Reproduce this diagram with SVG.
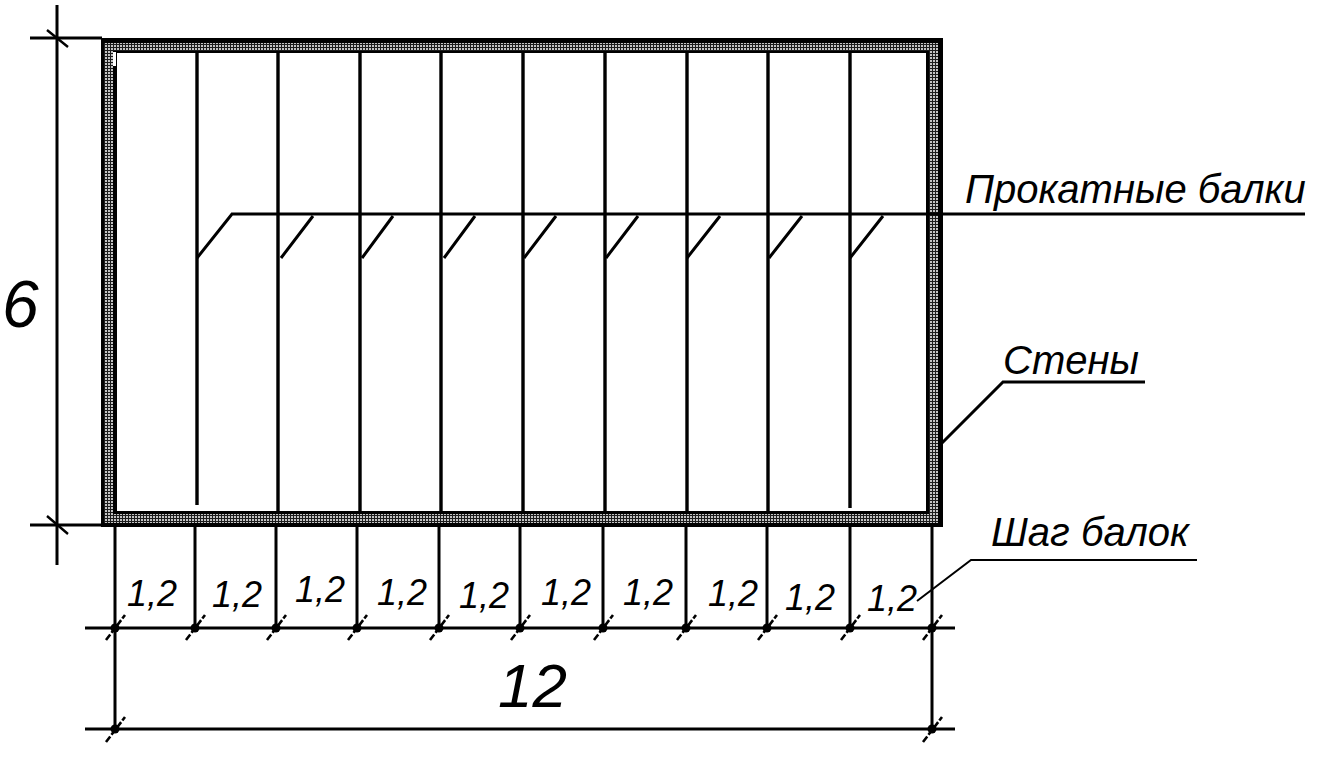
<svg xmlns="http://www.w3.org/2000/svg" width="1334" height="758" viewBox="0 0 1334 758">
<style>
.l{stroke:#000;stroke-width:3;fill:none}
.b{stroke:#000;stroke-width:3.4;fill:none}
.t{stroke:#000;stroke-width:2.6;fill:none;stroke-dasharray:7 2}
.x{font-family:"Liberation Sans",Arial,sans-serif;font-style:italic;fill:#000}
.d{font-size:36px}
</style>
<defs>
<pattern id="h" width="3" height="3" patternUnits="userSpaceOnUse">
<rect width="3" height="3" fill="#1c1c1c"/>
<rect width="2" height="2" fill="#c4c4c4"/>
</pattern>
<circle id="k" r="4.5" fill="#000"/>
</defs>
<rect width="1334" height="758" fill="#fff"/>
<g id="walls">
<path fill="#000" fill-rule="evenodd" d="M101 38H943V527H101ZM117 53V511H926V53Z"/>
<path fill="url(#h)" fill-rule="evenodd" d="M104 43H938V523H104ZM113 51V514H929V51Z"/>
<path fill="#fff" d="M113 52H116V66H113Z"/>
</g>
<g id="connectors">
<g id="beams" class="b">
<path d="M197 52V505M278 52V511M360 52V511M441 52V511M523 52V511M605 52V511M687 52V511M768 52V511M850 52V508"/>
</g>
<g id="leaders" class="l">
<path d="M197 258L232 214H1305"/>
<path d="M281 258L313 216M362 258L393 216M444 258L475 216M524 258L556 216M606 258L638 216M687 258L720 216M769 258L802 216M850 258L883 216"/>
<path d="M940 445L1003 382H1145"/>
<path d="M917 601L971 560H1197" stroke-width="2"/>
</g>
<g id="dimensions" class="l">
<path d="M57 5V565M30 38H102M30 525H102"/>
<path d="M115 527V730M195 527V628M276 527V628M357 527V628M439 527V628M520 527V628M603 527V628M686 527V628M767 527V628M850 527V628M932 527V730"/>
<path d="M85 628H955M85 729H955"/>
<path stroke-width="2.400" d="M47 30L68 47M47 516L68 534"/>
</g>
<g id="ticks" class="t">
<path d="M106 640L125 615M186 640L205 615M267 640L286 615M348 640L367 615M430 640L449 615M511 640L530 615M594 640L613 615M677 640L696 615M758 640L777 615M841 640L860 615M923 640L942 615"/>
<path d="M106 742L125 717M923 742L942 717"/>
</g>
<g id="knots">
<use href="#k" x="115" y="628"/><use href="#k" x="195" y="628"/><use href="#k" x="276" y="628"/><use href="#k" x="357" y="628"/><use href="#k" x="439" y="628"/><use href="#k" x="520" y="628"/><use href="#k" x="603" y="628"/><use href="#k" x="686" y="628"/><use href="#k" x="767" y="628"/><use href="#k" x="850" y="628"/><use href="#k" x="932" y="628"/><use href="#k" x="115" y="729"/><use href="#k" x="932" y="729"/>
</g>
</g>
<g id="labels">
<text class="x" x="965" y="203" font-size="40">Прокатные балки</text>
<text class="x" x="1003" y="374" font-size="40">Стены</text>
<text class="x" x="991" y="546" font-size="40">Шаг балок</text>
<text class="x" x="2" y="327" font-size="66">6</text>
<text class="x" x="498" y="707" font-size="62">12</text>
<text class="x d" x="127" y="606">1,2</text>
<text class="x d" x="212" y="607">1,2</text>
<text class="x d" x="295" y="602">1,2</text>
<text class="x d" x="377" y="605">1,2</text>
<text class="x d" x="459" y="608">1,2</text>
<text class="x d" x="541" y="605">1,2</text>
<text class="x d" x="623" y="605">1,2</text>
<text class="x d" x="708" y="606">1,2</text>
<text class="x d" x="785" y="610">1,2</text>
<text class="x d" x="867" y="611">1,2</text>
</g>
</svg>
